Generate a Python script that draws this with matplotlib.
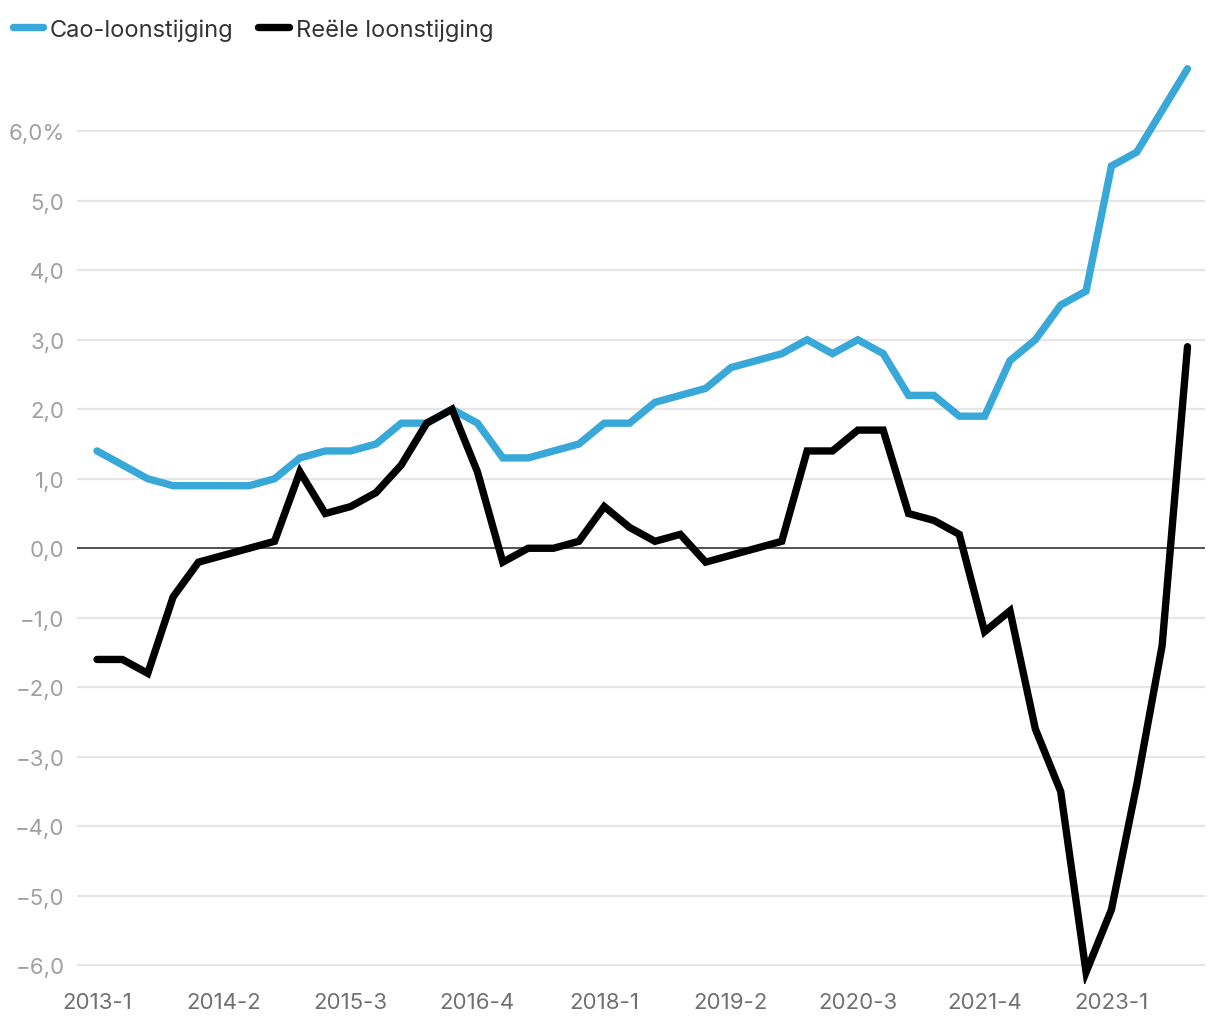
import matplotlib.pyplot as plt
import numpy as np

plt.rcParams['font.family'] = ['Inter', 'DejaVu Sans']

# Kwartalen 2013-1 t/m 2023-4
kwartalen = [f"{jaar}-{k}" for jaar in range(2013, 2024) for k in range(1, 5)]

cao = [1.4, 1.2, 1.0, 0.9, 0.9, 0.9, 0.9, 1.0, 1.3, 1.4, 1.4, 1.5,
       1.8, 1.8, 2.0, 1.8, 1.3, 1.3, 1.4, 1.5, 1.8, 1.8, 2.1, 2.2,
       2.3, 2.6, 2.7, 2.8, 3.0, 2.8, 3.0, 2.8, 2.2, 2.2, 1.9, 1.9,
       2.7, 3.0, 3.5, 3.7, 5.5, 5.7, 6.3, 6.9]

reeel = [-1.6, -1.6, -1.8, -0.7, -0.2, -0.1, 0.0, 0.1, 1.1, 0.5, 0.6, 0.8,
         1.2, 1.8, 2.0, 1.1, -0.2, 0.0, 0.0, 0.1, 0.6, 0.3, 0.1, 0.2,
         -0.2, -0.1, 0.0, 0.1, 1.4, 1.4, 1.7, 1.7, 0.5, 0.4, 0.2, -1.2,
         -0.9, -2.6, -3.5, -6.1, -5.2, -3.4, -1.4, 2.9]

y_ticks = [-6, -5, -4, -3, -2, -1, 0, 1, 2, 3, 4, 5, 6]


def label(v):
    s = f"{abs(v):.1f}".replace(".", ",")
    if v < 0:
        s = "\u2212" + s
    if v == 6:
        s += "%"
    return s


def main():
    fig = plt.figure(figsize=(12.2, 10.2), dpi=100)
    ax = fig.add_axes([77 / 1220, 1 - 985 / 1020, (1205 - 77) / 1220, (985 - 60) / 1020])

    x = np.arange(len(kwartalen))
    ax.plot(x, cao, color="#38a8d8", lw=5.3, solid_capstyle="round",
            solid_joinstyle="miter", label="Cao-loonstijging", zorder=3)
    ax.plot(x, reeel, color="#000000", lw=5.3, solid_capstyle="round",
            solid_joinstyle="miter", label="Reële loonstijging", zorder=4)

    ax.set_xlim(-0.79, 43.69)
    ax.set_ylim(-6.27, 7.04)

    ax.set_yticks(y_ticks)
    ax.set_yticklabels([label(v) for v in y_ticks])
    for v in y_ticks:
        if v == 0:
            ax.axhline(0, color="#333333", lw=1.2, zorder=2)
        else:
            ax.axhline(v, color="#e6e6e6", lw=1.6, zorder=1)

    ax.set_xticks(x[::5])
    ax.set_xticklabels(kwartalen[::5])

    for s in ax.spines.values():
        s.set_visible(False)
    ax.tick_params(axis="y", length=0, pad=9, labelsize=16, labelcolor="#a0a0a0")
    ax.tick_params(axis="x", length=0, pad=6, labelsize=16, labelcolor="#707070")

    fig.legend(loc="upper left", bbox_to_anchor=(-0.007, 1.002), ncol=2, frameon=False,
               fontsize=17, handlelength=1.3, handletextpad=0.28,
               columnspacing=1.05, labelcolor="#333333")

    fig.savefig("out.png", dpi=100)


if __name__ == "__main__":
    main()
